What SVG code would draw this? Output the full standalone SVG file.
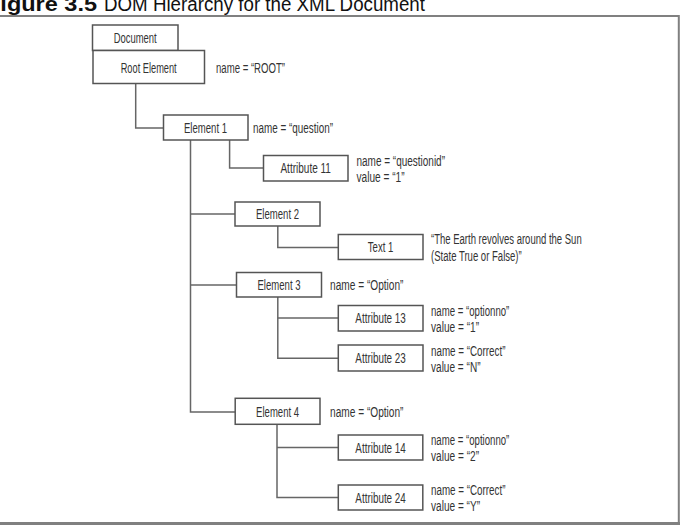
<svg xmlns="http://www.w3.org/2000/svg" width="681" height="525" viewBox="0 0 681 525">
<style>
.box{fill:#fff;stroke:#555;stroke-width:1.5}
.lbl{font-family:"Liberation Sans",Arial,sans-serif;font-size:14px;fill:#333;text-anchor:middle}
.att{font-family:"Liberation Sans",Arial,sans-serif;font-size:14px;fill:#333}
.conn{fill:none;stroke:#666;stroke-width:1.5}
.title{font-family:"Liberation Sans",Arial,sans-serif;font-size:20px;fill:#111}
.frame{fill:none;stroke:#808080}
</style>
<rect width="681" height="525" fill="#fff"/>
<text class="title" x="-14" y="11" font-weight="bold" textLength="111" lengthAdjust="spacingAndGlyphs">Figure 3.5</text>
<text class="title" x="104" y="11" textLength="321" lengthAdjust="spacingAndGlyphs">DOM Hierarchy for the XML Document</text>
<g id="frame">
<path class="frame" stroke-width="2" d="M0,16 H678.8 V523"/>
<path class="frame" stroke-width="3" d="M0,523.5 H680"/>
</g>
<g id="connectors">
<path class="conn" d="M135.7,83.5 V128 H163.5"/>
<path class="conn" d="M190.5,140 V412 H235.2"/>
<path class="conn" d="M190.5,214 H235"/>
<path class="conn" d="M190.5,285 H236.5"/>
<path class="conn" d="M229.6,140 V168 H263.5"/>
<path class="conn" d="M277.8,226 V247.5 H338.3"/>
<path class="conn" d="M277.8,297 V358.2 H338.3"/>
<path class="conn" d="M277.8,318 H338.3"/>
<path class="conn" d="M277,424.5 V497.5 H338.3"/>
<path class="conn" d="M277,447.5 H338.3"/>
</g>
<g id="document">
<rect class="box" x="92.5" y="25" width="85.5" height="25.5"/>
<text class="lbl" x="135.2" y="42.8" textLength="43" lengthAdjust="spacingAndGlyphs">Document</text>
</g>
<g id="root">
<rect class="box" x="93" y="50.5" width="111.5" height="33"/>
<text class="lbl" x="148.7" y="72.8" textLength="56" lengthAdjust="spacingAndGlyphs">Root Element</text>
<text class="att" x="216" y="72.8" textLength="69" lengthAdjust="spacingAndGlyphs">name = “ROOT”</text>
</g>
<g id="element1">
<rect class="box" x="163.5" y="115" width="84.5" height="25"/>
<text class="lbl" x="205.5" y="132.8" textLength="43" lengthAdjust="spacingAndGlyphs">Element 1</text>
<text class="att" x="253" y="132.8" textLength="80" lengthAdjust="spacingAndGlyphs">name = “question”</text>
</g>
<g id="attribute11">
<rect class="box" x="263.5" y="155.5" width="84.5" height="25.5"/>
<text class="lbl" x="305.7" y="173.2" textLength="50.5" lengthAdjust="spacingAndGlyphs">Attribute 11</text>
<text class="att" x="356.5" y="165.6" textLength="88.5" lengthAdjust="spacingAndGlyphs">name = “questionid”</text>
<text class="att" x="356.5" y="182.2" textLength="48" lengthAdjust="spacingAndGlyphs">value = “1”</text>
</g>
<g id="element2">
<rect class="box" x="235" y="202" width="85" height="24"/>
<text class="lbl" x="277.5" y="219.2" textLength="43" lengthAdjust="spacingAndGlyphs">Element 2</text>
</g>
<g id="text1">
<rect class="box" x="338.3" y="234.5" width="84.7" height="25"/>
<text class="lbl" x="380.6" y="252.2" textLength="25.5" lengthAdjust="spacingAndGlyphs">Text 1</text>
<text class="att" x="431" y="244.2" textLength="150.7" lengthAdjust="spacingAndGlyphs">“The Earth revolves around the Sun</text>
<text class="att" x="431" y="261.2" textLength="90.7" lengthAdjust="spacingAndGlyphs">(State True or False)”</text>
</g>
<g id="element3">
<rect class="box" x="236.5" y="272.5" width="85" height="24.5"/>
<text class="lbl" x="279" y="290.2" textLength="43" lengthAdjust="spacingAndGlyphs">Element 3</text>
<text class="att" x="330" y="290.2" textLength="73.5" lengthAdjust="spacingAndGlyphs">name = “Option”</text>
</g>
<g id="attribute13">
<rect class="box" x="338.3" y="305.5" width="84.7" height="25.5"/>
<text class="lbl" x="380.6" y="323.2" textLength="50.5" lengthAdjust="spacingAndGlyphs">Attribute 13</text>
<text class="att" x="431" y="315.9" textLength="78.3" lengthAdjust="spacingAndGlyphs">name = “optionno”</text>
<text class="att" x="431" y="332.2" textLength="48" lengthAdjust="spacingAndGlyphs">value = “1”</text>
</g>
<g id="attribute23">
<rect class="box" x="338.3" y="345" width="84.7" height="26"/>
<text class="lbl" x="380.6" y="363.2" textLength="50.5" lengthAdjust="spacingAndGlyphs">Attribute 23</text>
<text class="att" x="431" y="355.7" textLength="74.5" lengthAdjust="spacingAndGlyphs">name = “Correct”</text>
<text class="att" x="431" y="372.2" textLength="49.5" lengthAdjust="spacingAndGlyphs">value = “N”</text>
</g>
<g id="element4">
<rect class="box" x="235.2" y="398.3" width="84.8" height="26"/>
<text class="lbl" x="277.6" y="416.7" textLength="43" lengthAdjust="spacingAndGlyphs">Element 4</text>
<text class="att" x="330" y="417.2" textLength="73.5" lengthAdjust="spacingAndGlyphs">name = “Option”</text>
</g>
<g id="attribute14">
<rect class="box" x="338.3" y="435" width="84.5" height="25"/>
<text class="lbl" x="380.6" y="452.7" textLength="50.5" lengthAdjust="spacingAndGlyphs">Attribute 14</text>
<text class="att" x="431" y="445" textLength="78.3" lengthAdjust="spacingAndGlyphs">name = “optionno”</text>
<text class="att" x="431" y="461.2" textLength="48" lengthAdjust="spacingAndGlyphs">value = “2”</text>
</g>
<g id="attribute24">
<rect class="box" x="338.3" y="485" width="84.5" height="25"/>
<text class="lbl" x="380.6" y="502.7" textLength="50.5" lengthAdjust="spacingAndGlyphs">Attribute 24</text>
<text class="att" x="431" y="495.2" textLength="74.5" lengthAdjust="spacingAndGlyphs">name = “Correct”</text>
<text class="att" x="431" y="511.2" textLength="49" lengthAdjust="spacingAndGlyphs">value = “Y”</text>
</g>
</svg>
